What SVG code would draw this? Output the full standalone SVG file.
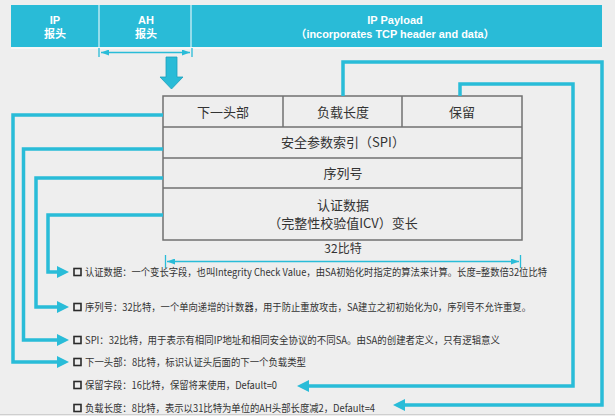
<svg xmlns="http://www.w3.org/2000/svg" width="615" height="416" viewBox="0 0 615 416">
<defs>
<style>
.bar{fill:#29bbd7}
.bt{fill:#fff;font-family:"Liberation Sans","Noto Sans CJK SC",sans-serif;font-weight:bold;font-size:11px;text-anchor:middle}
.cell{fill:none;stroke:#707070;stroke-width:1.5}
.tt{fill:#333;font-family:"Noto Sans CJK SC",sans-serif;font-size:13px;text-anchor:middle}
.con{fill:none;stroke:#29bcd8;stroke-width:3.5;stroke-linejoin:miter}
.dim{fill:none;stroke:#29bcd8;stroke-width:1.3}
.bl{fill:none;stroke:#2a2a2a;stroke-width:1.6}
.lt{fill:#333;font-family:"Noto Sans CJK SC",sans-serif;font-size:10px}
</style>
<marker id="ah" viewBox="0 0 12 12" refX="0" refY="6" markerWidth="12" markerHeight="12" markerUnits="userSpaceOnUse" orient="auto">
<path d="M0,0 L12,6 L0,12 z" fill="#29bcd8"/>
</marker>
<marker id="sa" viewBox="0 0 8 6" refX="8" refY="3" markerWidth="8" markerHeight="6" markerUnits="userSpaceOnUse" orient="auto-start-reverse">
<path d="M0,0 L8,3 L0,6 z" fill="#29bcd8"/>
</marker>
</defs>
<rect width="615" height="416" fill="#eeeeee"/>
<line x1="0" y1="414.5" x2="615" y2="414.5" stroke="#cfcfcf" stroke-width="1"/>

<g id="top-bar">
<rect class="bar" x="11" y="5" width="591" height="42"/>
<line x1="99" y1="5" x2="99" y2="47" stroke="#fff" stroke-width="1"/>
<line x1="191" y1="5" x2="191" y2="47" stroke="#fff" stroke-width="1"/>
<line x1="11" y1="48" x2="602" y2="48" stroke="#fff" stroke-width="1"/>
</g>
<g id="ip-header">
<text class="bt" x="55" y="24">IP</text>
<text class="bt" x="55" y="38">报头</text>
</g>
<g id="ah-header">
<text class="bt" x="146" y="24">AH</text>
<text class="bt" x="146" y="38">报头</text>
</g>
<g id="ip-payload">
<text class="bt" x="395" y="24">IP Payload</text>
<text class="bt" x="395" y="38" textLength="199" lengthAdjust="spacingAndGlyphs">（incorporates TCP header and data）</text>
</g>

<g id="ah-span">
<line class="dim" x1="99" y1="48" x2="99" y2="57"/>
<line class="dim" x1="192" y1="48" x2="192" y2="57"/>
<line class="dim" x1="101" y1="52.5" x2="190" y2="52.5" marker-start="url(#sa)" marker-end="url(#sa)"/>
</g>

<g id="down-arrow">
<polygon points="166,57 177,57 177,77 183,77 171.5,89 160,77 166,77" fill="#29bbd7" stroke="#1d9fbb" stroke-width="0.8"/>
</g>

<g id="ah-table">
<rect class="cell" x="163" y="96" width="359" height="144"/>
<line class="cell" x1="163" y1="127" x2="522" y2="127"/>
<line class="cell" x1="163" y1="158" x2="522" y2="158"/>
<line class="cell" x1="163" y1="188" x2="522" y2="188"/>
<line class="cell" x1="283" y1="96" x2="283" y2="127"/>
<line class="cell" x1="402" y1="96" x2="402" y2="127"/>
</g>
<g id="next-header"><text class="tt" x="223" y="116.5">下一头部</text></g>
<g id="payload-len"><text class="tt" x="343" y="116.5">负载长度</text></g>
<g id="reserved"><text class="tt" x="462" y="116.5">保留</text></g>
<g id="spi"><text class="tt" x="343" y="147">安全参数索引（SPI）</text></g>
<g id="seq"><text class="tt" x="343" y="177.5">序列号</text></g>
<g id="icv">
<text class="tt" x="343" y="210">认证数据</text>
<text class="tt" x="343" y="228">（完整性校验值ICV）变长</text>
</g>

<g id="width-dim">
<text class="tt" x="343" y="253" style="font-size:12px">32比特</text>
<line class="dim" x1="165.5" y1="255" x2="165.5" y2="268"/>
<line class="dim" x1="520.5" y1="255" x2="520.5" y2="268"/>
<line class="dim" x1="167" y1="261.5" x2="519" y2="261.5" marker-start="url(#sa)" marker-end="url(#sa)"/>
</g>

<g id="connectors">
<path class="con" d="M163,115 H13 V362 H57" marker-end="url(#ah)"/>
<path class="con" d="M163,149 H23.5 V340 H57" marker-end="url(#ah)"/>
<path class="con" d="M163,178 H36 V307 H57" marker-end="url(#ah)"/>
<path class="con" d="M163,215 H48 V272 H57" marker-end="url(#ah)"/>
<path class="con" d="M343,96 V62 H602 V405 H405" marker-end="url(#ah)"/>
<path class="con" d="M460,96 V84 H573 V386 H309" marker-end="url(#ah)"/>
</g>

<g id="desc-icv">
<rect class="bl" x="74" y="268.5" width="7" height="7"/>
<text class="lt" x="85" y="275.5" textLength="462" lengthAdjust="spacingAndGlyphs">认证数据：一个变长字段，也叫Integrity Check Value，由SA初始化时指定的算法来计算。长度=整数倍32位比特</text>
</g>
<g id="desc-seq">
<rect class="bl" x="74" y="303.5" width="7" height="7"/>
<text class="lt" x="85" y="310.5" textLength="446" lengthAdjust="spacingAndGlyphs">序列号：32比特，一个单向递增的计数器，用于防止重放攻击，SA建立之初初始化为0，序列号不允许重复。</text>
</g>
<g id="desc-spi">
<rect class="bl" x="74" y="336.5" width="7" height="7"/>
<text class="lt" x="85" y="343.5" textLength="415" lengthAdjust="spacingAndGlyphs">SPI：32比特，用于表示有相同IP地址和相同安全协议的不同SA。由SA的创建者定义，只有逻辑意义</text>
</g>
<g id="desc-next">
<rect class="bl" x="74" y="358.5" width="7" height="7"/>
<text class="lt" x="85" y="365.5" textLength="221" lengthAdjust="spacingAndGlyphs">下一头部：8比特，标识认证头后面的下一个负载类型</text>
</g>
<g id="desc-reserved">
<rect class="bl" x="74" y="381.5" width="7" height="7"/>
<text class="lt" x="85" y="388.5" textLength="192" lengthAdjust="spacingAndGlyphs">保留字段：16比特，保留将来使用，Default=0</text>
</g>
<g id="desc-len">
<rect class="bl" x="74" y="404.5" width="7" height="7"/>
<text class="lt" x="85" y="411.5" textLength="290" lengthAdjust="spacingAndGlyphs">负载长度：8比特，表示以31比特为单位的AH头部长度减2，Default=4</text>
</g>
</svg>
